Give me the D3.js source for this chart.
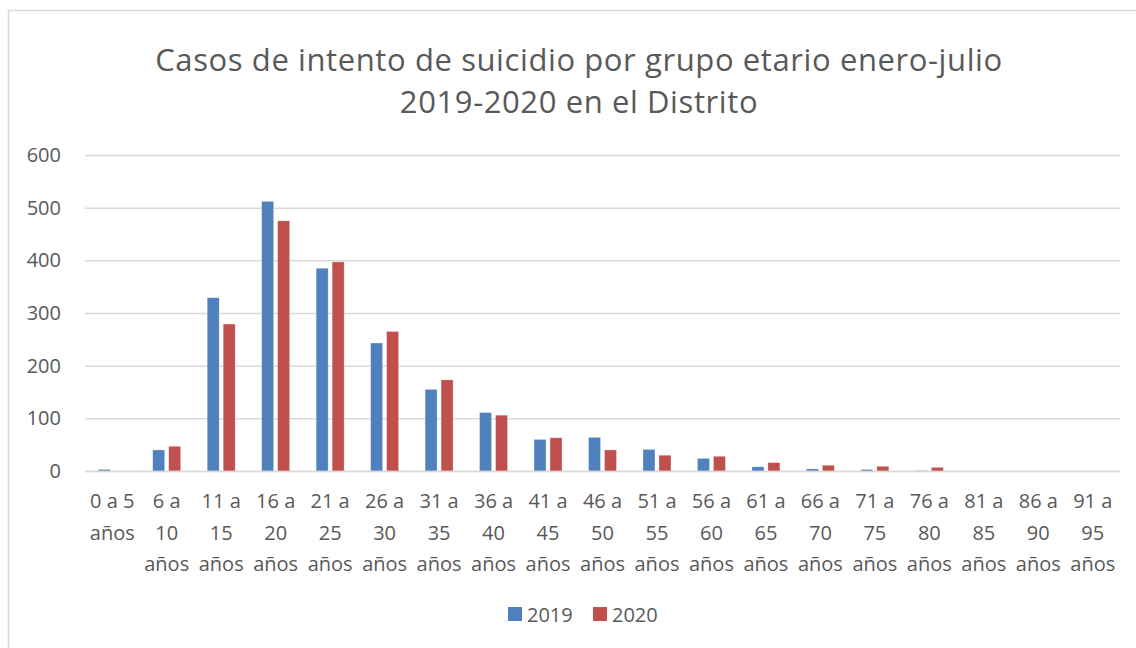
<!DOCTYPE html>
<html>
<head>
<meta charset="utf-8">
<script src="https://cdn.jsdelivr.net/npm/d3@7"></script>
<style>
  body { margin: 0; background: #fff; }
  text { font-family: "Open Sans", sans-serif; fill: #595959; }
</style>
</head>
<body>
<div id="chart"></div>
<script>
// Data
var categories = ["0 a 5 años", "6 a 10 años", "11 a 15 años", "16 a 20 años", "21 a 25 años",
  "26 a 30 años", "31 a 35 años", "36 a 40 años", "41 a 45 años", "46 a 50 años",
  "51 a 55 años", "56 a 60 años", "61 a 65 años", "66 a 70 años", "71 a 75 años",
  "76 a 80 años", "81 a 85 años", "86 a 90 años", "91 a 95 años"];
var tickLines = [["0 a 5", "años"], ["6 a", "10", "años"], ["11 a", "15", "años"], ["16 a", "20", "años"],
  ["21 a", "25", "años"], ["26 a", "30", "años"], ["31 a", "35", "años"], ["36 a", "40", "años"],
  ["41 a", "45", "años"], ["46 a", "50", "años"], ["51 a", "55", "años"], ["56 a", "60", "años"],
  ["61 a", "65", "años"], ["66 a", "70", "años"], ["71 a", "75", "años"], ["76 a", "80", "años"],
  ["81 a", "85", "años"], ["86 a", "90", "años"], ["91 a", "95", "años"]];
var years = ["2019", "2020"];
var values2019 = [3, 40, 329, 512, 385, 243, 155, 111, 60, 64, 41, 24, 8, 4, 3, 1, 0, 0, 0];
var values2020 = [0, 47, 279, 475, 397, 265, 173, 106, 63, 40, 30, 28, 16, 11, 9, 7, 0, 0, 0];
var yTicks = [0, 100, 200, 300, 400, 500, 600];
var colors = {"2019": "#4F81BD", "2020": "#C0504D"};
var titleLines = ["Casos de intento de suicidio por grupo etario enero-julio", "2019-2020 en el Distrito"];

var svgWidth = 1136;
var svgHeight = 648;
var margin = {top: 155, right: 16, bottom: 177, left: 85};
var width = svgWidth - margin.left - margin.right;
var height = svgHeight - margin.top - margin.bottom;

var svg = d3.select("#chart")
  .append("svg")
  .attr("width", svgWidth)
  .attr("height", svgHeight);

// chart frame
svg.append("rect")
  .attr("x", 8.5)
  .attr("y", 10.5)
  .attr("width", 1140)
  .attr("height", 660)
  .attr("fill", "#fff")
  .attr("stroke", "#d9d9d9")
  .attr("stroke-width", 1.5);

// title, one text per line
svg.selectAll("text.title")
  .data(titleLines)
  .enter()
  .append("text")
  .attr("class", "title")
  .attr("text-anchor", "middle")
  .style("font-size", "31px")
  .style("letter-spacing", "0.6px")
  .attr("x", 579)
  .attr("y", (d, i) => 71 + i * 42)
  .text(d => d);

var chartGroup = svg.append("g")
  .attr("transform", `translate(${margin.left}, ${margin.top})`);

var x0 = d3.scaleBand()
  .domain(categories)
  .range([0, width]);

var x1 = d3.scaleBand()
  .domain(years)
  .range([x0.bandwidth() / 2 - 14, x0.bandwidth() / 2 + 14])
  .paddingInner(0.25);

var y = d3.scaleLinear()
  .domain([0, 600])
  .range([height, 0]);

// gridlines
var leftAxis = d3.axisLeft(y)
  .tickValues(yTicks)
  .tickSize(-width)
  .tickPadding(24);

var yAxis = chartGroup.append("g").call(leftAxis);
yAxis.select(".domain").remove();
yAxis.selectAll("line").attr("stroke", "#d9d9d9").attr("stroke-width", 1.5);
yAxis.selectAll("text")
  .style("font-size", "20px")
  .style("font-family", "'Open Sans', sans-serif")
  .attr("fill", "#595959");

// bars
var series = years.map(function(yr) {
  var vals = yr === "2019" ? values2019 : values2020;
  return categories.map((c, i) => ({cat: c, year: yr, value: vals[i]}));
});

chartGroup.selectAll("g.series")
  .data(series)
  .enter()
  .append("g")
  .attr("class", "series")
  .selectAll("rect")
  .data(d => d)
  .enter()
  .append("rect")
  .attr("x", d => x0(d.cat) + x1(d.year))
  .attr("y", d => y(d.value))
  .attr("width", x1.bandwidth())
  .attr("height", d => height - y(d.value))
  .attr("fill", d => colors[d.year])
  .attr("stroke", "#fff")
  .attr("stroke-opacity", 0.5)
  .attr("stroke-width", 0.6);

// x axis labels
var bottomAxis = d3.axisBottom(x0).tickSize(0).tickFormat("");
var xAxis = chartGroup.append("g")
  .attr("transform", `translate(0, ${height})`)
  .call(bottomAxis);
xAxis.select(".domain").attr("stroke", "#d9d9d9").attr("stroke-width", 1.5);

xAxis.selectAll(".tick")
  .append("text")
  .attr("text-anchor", "middle")
  .style("font-size", "20px")
  .attr("fill", "#595959")
  .each(function(d, i) {
    d3.select(this).selectAll("tspan")
      .data(tickLines[i])
      .enter()
      .append("tspan")
      .attr("x", 0)
      .attr("y", (t, j) => 37 + j * 31.5)
      .text(t => t);
  });

// legend
var legend = svg.append("g")
  .attr("transform", "translate(508, 614)");

var legendItem = legend.selectAll("g")
  .data(years)
  .enter()
  .append("g")
  .attr("transform", (d, i) => `translate(${i * 85}, 0)`);

legendItem.append("rect")
  .attr("x", 0)
  .attr("y", -7)
  .attr("width", 14)
  .attr("height", 14)
  .attr("fill", d => colors[d]);

legendItem.append("text")
  .attr("x", 19)
  .attr("y", 7.5)
  .style("font-size", "20px")
  .text(d => d);
</script>
</body>
</html>
